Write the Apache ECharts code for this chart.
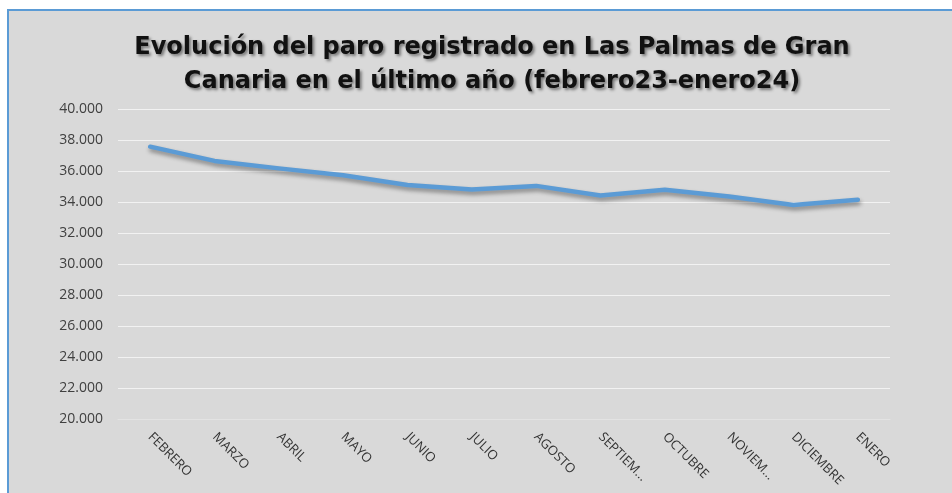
<!DOCTYPE html>
<html>
<head>
<meta charset="utf-8">
<script src="https://cdn.jsdelivr.net/npm/echarts@6/dist/echarts.min.js"></script>
<style>
  html, body { margin: 0; padding: 0; background: #fff; }
  #chart { width: 952px; height: 493px; }
</style>
</head>
<body>
<div id="chart"></div>
<script>
// meses (etiquetas tal como salen en el gráfico)
const meses = ['FEBRERO', 'MARZO', 'ABRIL', 'MAYO', 'JUNIO', 'JULIO', 'AGOSTO',
  'SEPTIEM...', 'OCTUBRE', 'NOVIEM...', 'DICIEMBRE', 'ENERO']
// paro registrado
const paro = [37570, 36650, 36170, 35720, 35100, 34810, 35040, 34420, 34790, 34350, 33800, 34150]
const yMin = 20000
const yMax = 40000
const yPaso = 2000

const chart = echarts.init(document.getElementById('chart'))

const fmtMiles = v => String(v).replace(/\B(?=(\d{3})+(?!\d))/g, '.')

const option = {
  animation: false,
  graphic: [
    {
      type: 'rect',
      z: -10,
      shape: { x: 8, y: 10, width: 960, height: 500 },
      style: { fill: '#d9d9d9', stroke: '#5b9bd5', lineWidth: 2 }
    }
  ],
  title: {
    text: 'Evolución del paro registrado en Las Palmas de Gran\nCanaria en el último año (febrero23-enero24)',
    left: 487,
    top: 26,
    textAlign: 'center',
    textStyle: {
      fontFamily: 'DejaVu Sans',
      fontWeight: 'bold',
      fontSize: 24,
      lineHeight: 34,
      color: '#111',
      textShadowColor: 'rgba(0,0,0,0.45)',
      textShadowBlur: 3,
      textShadowOffsetX: 2,
      textShadowOffsetY: 2
    }
  },
  grid: {
    left: 118,
    right: 62,
    top: 109,
    bottom: 74
  },
  xAxis: {
    type: 'category',
    data: meses,
    boundaryGap: true,
    axisLine: { show: true, lineStyle: { color: '#e3e3e3', width: 1 } },
    axisTick: { show: false },
    axisLabel: {
      rotate: -45,
      interval: 0,
      margin: 16,
      color: '#333',
      fontFamily: 'Open Sans',
      fontSize: 13
    }
  },
  yAxis: {
    type: 'value',
    min: yMin,
    max: yMax,
    interval: yPaso,
    axisLine: { show: false },
    axisTick: { show: false },
    axisLabel: {
      margin: 15,
      color: '#404040',
      fontFamily: 'Open Sans',
      fontSize: 14,
      formatter: fmtMiles
    },
    splitLine: { lineStyle: { color: '#f2f2f2', width: 1 } }
  },
  series: [
    {
      type: 'line',
      data: paro,
      showSymbol: false,
      symbol: 'none',
      lineStyle: {
        color: '#5b9bd5',
        width: 4.5,
        cap: 'round',
        join: 'round',
        shadowColor: 'rgba(0,0,0,0.4)',
        shadowBlur: 4,
        shadowOffsetX: 1,
        shadowOffsetY: 3
      }
    }
  ]
}

chart.setOption(option)
</script>
</body>
</html>
